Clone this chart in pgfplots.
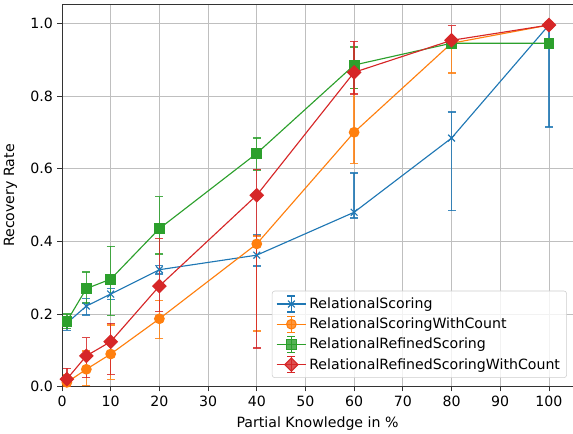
\documentclass[border=0pt]{standalone}
\usepackage{fontspec}
\setmainfont{DejaVu Sans}
\usepackage{pgfplots}
\pgfplotsset{compat=1.18}
\definecolor{tabblue}{HTML}{1F77B4}
\definecolor{taborange}{HTML}{FF7F0E}
\definecolor{tabgreen}{HTML}{2CA02C}
\definecolor{tabred}{HTML}{D62728}
\begin{document}
\begin{tikzpicture}
\useasboundingbox (0,0) rectangle (429.75pt,324.75pt);
\begin{axis}[
  at={(46.5pt,34.7pt)}, anchor=south west,
  scale only axis, width=383.25pt, height=286.8pt,
  font=\fontsize{10.6}{12.7}\selectfont,
  xmin=0, xmax=104.95, ymin=0, ymax=1.052,
  xtick={0,10,...,100},
  ytick={0,0.2,0.4,0.6,0.8,1.0},
  yticklabel style={/pgf/number format/.cd, fixed, fixed zerofill, precision=1},
  /pgf/number format/assume math mode=true,
  tick pos=left, tick align=outside,
  major tick length=3.4pt,
  every tick/.style={black!80, line width=0.6pt},
  axis line style={black!80, line width=0.6pt},
  grid=major,
  major grid style={color=black!25, line width=0.6pt},
  xlabel={Partial Knowledge in \%},
  ylabel={Recovery Rate},
  xlabel style={yshift=-1pt},
  ylabel style={yshift=3pt},
  error bars/y dir=both, error bars/y explicit,
  error bars/error bar style={line width=1pt, solid, opacity=0.85},
  error bars/error mark options={line width=1pt, mark size=3pt, rotate=90},
  every axis plot/.append style={line width=0.85pt},
  legend cell align=left,
  legend style={at={(rel axis cs:0.988,0.023)}, anchor=south east,
    draw=black!20, rounded corners=2pt, fill=white, fill opacity=0.8, text opacity=1,
    font=\fontsize{10.6}{12.7}\selectfont, row sep=1.6pt, inner sep=3pt},
  legend image code/.code={
    \draw[#1, mark=none, solid] (11pt,-6pt) -- (11pt,6pt);
    \draw[#1, mark=none, solid] (8pt,-6pt) -- (14pt,-6pt);
    \draw[#1, mark=none, solid] (8pt,6pt) -- (14pt,6pt);
    \draw[mark repeat=2, mark phase=2, #1] plot coordinates {(0pt,0pt) (11pt,0pt) (22pt,0pt)};
  },
]
\addplot[color=tabblue, mark=x, mark size=3.6pt, mark options={solid, line width=0.9pt}]
  coordinates {
  (1,0.175) += (0,0.015) -= (0,0.02)
  (5,0.222) += (0,0.02) -= (0,0.025)
  (10,0.255) += (0,0.015) -= (0,0.015)
  (20,0.322) += (0,0.012) -= (0,0.012)
  (40,0.362) += (0,0.055) -= (0,0.03)
  (60,0.48) += (0,0.108) -= (0,0.016)
  (80,0.684) += (0,0.072) -= (0,0.2)
  (100,0.995) += (0,0.0) -= (0,0.28)
  };
\addlegendentry{RelationalScoring}
\addplot[color=taborange, mark=*, mark size=3.6pt]
  coordinates {
  (1,0.012) += (0,0.02) -= (0,0.012)
  (5,0.048) += (0,0.05) -= (0,0.045)
  (10,0.09) += (0,0.08) -= (0,0.07)
  (20,0.187) += (0,0.05) -= (0,0.055)
  (40,0.393) += (0,0.022) -= (0,0.24)
  (60,0.70) += (0,0.12) -= (0,0.085)
  (80,0.945) += (0,0.015) -= (0,0.082)
  (100,0.995) += (0,0.0) -= (0,0.0)
  };
\addlegendentry{RelationalScoringWithCount}
\addplot[color=tabgreen, mark=square*, mark size=3.6pt]
  coordinates {
  (1,0.18) += (0,0.02) -= (0,0.02)
  (5,0.27) += (0,0.046) -= (0,0.04)
  (10,0.296) += (0,0.09) -= (0,0.1)
  (20,0.435) += (0,0.088) -= (0,0.07)
  (40,0.642) += (0,0.042) -= (0,0.046)
  (60,0.885) += (0,0.05) -= (0,0.065)
  (80,0.945) += (0,0.01) -= (0,0.01)
  (100,0.945) += (0,0.0) -= (0,0.0)
  };
\addlegendentry{RelationalRefinedScoring}
\addplot[color=tabred, mark=square*, mark size=3.5pt, mark options={rotate=45}]
  coordinates {
  (1,0.021) += (0,0.03) -= (0,0.02)
  (5,0.085) += (0,0.05) -= (0,0.06)
  (10,0.124) += (0,0.05) -= (0,0.09)
  (20,0.277) += (0,0.13) -= (0,0.07)
  (40,0.527) += (0,0.07) -= (0,0.42)
  (60,0.865) += (0,0.085) -= (0,0.06)
  (80,0.953) += (0,0.04) -= (0,0.02)
  (100,0.995) += (0,0.0) -= (0,0.0)
  };
\addlegendentry{RelationalRefinedScoringWithCount}
\end{axis}
\end{tikzpicture}
\end{document}
